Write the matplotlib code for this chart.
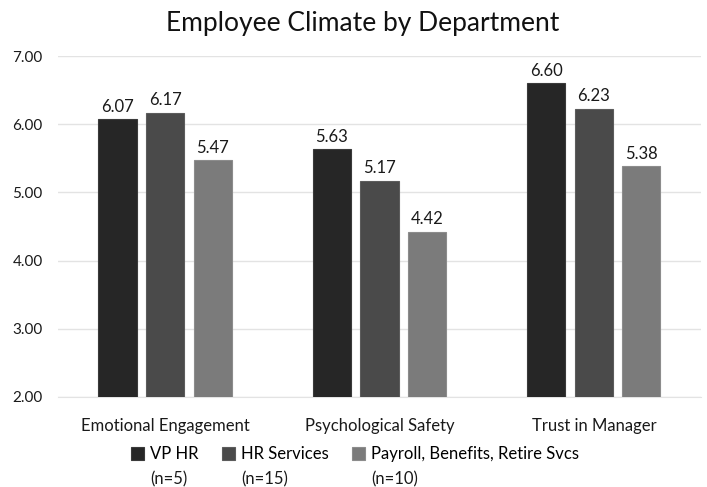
import matplotlib.pyplot as plt
import numpy as np

plt.rcParams['font.family'] = ['Lato', 'DejaVu Sans']

categories = ['Emotional Engagement', 'Psychological Safety', 'Trust in Manager']
groups = ['VP HR', 'HR Services', 'Payroll, Benefits, Retire Svcs']
group_n = ['(n=5)', '(n=15)', '(n=10)']
vp_hr = [6.07, 5.63, 6.60]
hr_services = [6.17, 5.17, 6.23]
payroll = [5.47, 4.42, 5.38]
yticks = [2.0, 3.0, 4.0, 5.0, 6.0, 7.0]

series = [vp_hr, hr_services, payroll]
colors = ['#262626', '#4a4a4a', '#7b7b7b']
edges = ['#3a3a3a', '#5c5c5c', '#8c8c8c']

fig = plt.figure(figsize=(7.07, 4.87), dpi=100)
ax = fig.add_axes([0.082, 0.185, 0.9095, 0.70])

x = np.arange(len(categories))
width = 0.178
step = 0.222
bars = []
for i, vals in enumerate(series):
    b = ax.bar(x + (i - 1) * step, vals, width, bottom=0, color=colors[i],
               edgecolor=edges[i], linewidth=0.8, zorder=3, label=groups[i])
    bars.append(b)
    for xi, v in zip(x + (i - 1) * step, vals):
        ax.text(xi, v + 0.07, '%.2f' % v, ha='center', va='bottom',
                fontsize=12, color='#1a1a1a')

ax.set_ylim(2.0, 7.0)
ax.set_xlim(-0.5, 2.5)
ax.set_yticks(yticks)
ax.set_yticklabels(['%.2f' % t for t in yticks], fontsize=11, color='#1a1a1a')
ax.set_xticks(x)
ax.set_xticklabels(categories, fontsize=12, color='#1a1a1a')
ax.tick_params(axis='both', length=0)
ax.tick_params(axis='x', pad=15)
ax.tick_params(axis='y', pad=11)
ax.yaxis.grid(True, color='#e3e3e3', linewidth=1, zorder=0)
for s in ax.spines.values():
    s.set_visible(False)
ax.spines['bottom'].set_visible(True)
ax.spines['bottom'].set_color('#e3e3e3')

fig.text(0.513, 0.952, 'Employee Climate by Department', ha='center',
         va='center', fontsize=19, color='#111111')

# legend: first line next to the square, sample size underneath
leg = ax.legend(handles=bars, labels=groups, ncol=3, frameon=False,
                loc='upper center', bbox_to_anchor=(0.462, -0.1),
                fontsize=12, handlelength=0.8, handleheight=0.8,
                handletextpad=0.35, columnspacing=1.4)
fig.canvas.draw()
inv = fig.transFigure.inverted()
for txt, n in zip(leg.get_texts(), group_n):
    bb = txt.get_window_extent()
    (x0, y0) = inv.transform((bb.x0, bb.y0))
    fig.text(x0, y0 - 0.02, n, ha='left', va='top', fontsize=12,
             color='#1a1a1a')

fig.savefig('out.png', dpi=100)
